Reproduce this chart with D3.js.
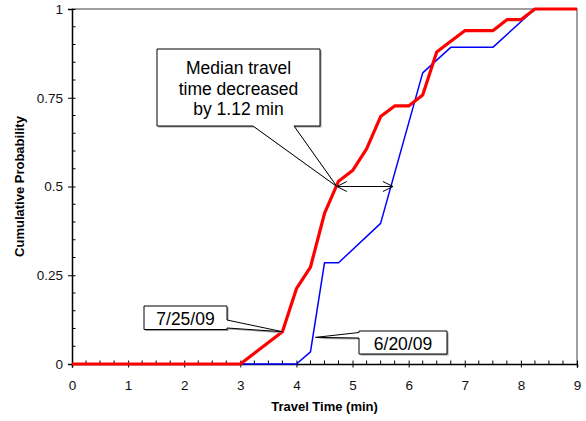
<!DOCTYPE html>
<html><head><meta charset="utf-8">
<script src="https://cdn.jsdelivr.net/npm/d3@7"></script>
<style>
body{margin:0;background:#fff;}
svg{display:block;font-family:"Liberation Sans",Arial,sans-serif;}
</style></head>
<body><svg id="c" width="586" height="421"></svg>
<script>
// ---- data ----
const redTimes  = [0, 3, 3.75, 4, 4.25, 4.5, 4.75, 5, 5.25, 5.5, 5.75, 6, 6.25, 6.5, 6.75, 7, 7.5, 7.75, 8, 8.25, 9];
const redProb   = [0, 0, 0.091, 0.212, 0.273, 0.424, 0.515, 0.545, 0.606, 0.697, 0.727, 0.727, 0.758, 0.879, 0.909, 0.939, 0.939, 0.970, 0.970, 1, 1];
const blueTimes = [0, 4, 4.25, 4.5, 4.75, 5.5, 6.25, 6.75, 7.5, 8.25, 9];
const blueProb  = [0, 0, 0.034, 0.285, 0.285, 0.396, 0.82, 0.892, 0.892, 1, 1];
const xTicks = [0,1,2,3,4,5,6,7,8,9];
const yTicks = [0, 0.25, 0.5, 0.75, 1];
const yTickLabels = ["0", "0.25", "0.5", "0.75", "1"];
const medianLevel = 0.5;
const medianRed = 4.72, medianBlue = 5.72;
const calloutText = ["Median travel", "time decreased", "by 1.12 min"];
const redLabel = "7/25/09", blueLabel = "6/20/09";
const redLabelPoint = [3.75, 0.091];
const blueLabelPoint = [4.34, 0.075];

// ---- layout ----
const svg = d3.select("#c");
const x = d3.scaleLinear().domain([0,9]).range([72,577]);
const y = d3.scaleLinear().domain([0,1]).range([364,9]);

// plot frame top/right (gray)
svg.append("path").attr("d",`M${x(0)},${y(1)}H${x(9)}V${y(0)}`)
  .attr("fill","none").attr("stroke","#808080").attr("stroke-width",1.5);

// minor ticks
const xMinor = d3.range(0, 9.001, 0.25).filter(v => Math.abs(v - Math.round(v)) > 1e-6);
svg.append("g").selectAll("line").data(xMinor).join("line")
  .attr("x1",d=>x(d)).attr("x2",d=>x(d)).attr("y1",y(0)).attr("y2",y(0)-3.5)
  .attr("stroke","#000").attr("stroke-width",1);
const yMinor = d3.range(0, 1.0001, 0.05).filter(v => Math.abs(v*4 - Math.round(v*4)) > 1e-6);
svg.append("g").selectAll("line").data(yMinor).join("line")
  .attr("x1",x(0)).attr("x2",x(0)+3.5).attr("y1",d=>y(d)).attr("y2",d=>y(d))
  .attr("stroke","#000").attr("stroke-width",1);

// axes
const xAxis = svg.append("g").attr("transform",`translate(0,${y(0)})`)
  .call(d3.axisBottom(x).tickValues(xTicks).tickFormat(d3.format("d")).tickSize(3.5).tickPadding(13));
xAxis.select(".domain").attr("stroke","#000").attr("stroke-width",1.5);
xAxis.selectAll(".tick line").attr("y1",-3.5).attr("stroke-width",1);
xAxis.selectAll("text").attr("font-size",13.5).attr("fill","#111")
  .attr("font-family","Liberation Sans, Arial, sans-serif");

const yAxis = svg.append("g").attr("transform",`translate(${x(0)},0)`)
  .call(d3.axisLeft(y).tickValues(yTicks).tickFormat((d,i)=>yTickLabels[i]).tickSize(4).tickPadding(5));
yAxis.select(".domain").attr("stroke","#000").attr("stroke-width",1.5);
yAxis.selectAll(".tick line").attr("x1",3.5).attr("stroke-width",1);
yAxis.selectAll("text").attr("font-size",13.5).attr("fill","#111")
  .attr("font-family","Liberation Sans, Arial, sans-serif");

// axis titles
svg.append("text").attr("x",(x(0)+x(9))/2).attr("y",411).attr("text-anchor","middle")
  .attr("font-size",13).attr("font-weight","bold").text("Travel Time (min)");
svg.append("text").attr("transform",`translate(24,${(y(0)+y(1))/2}) rotate(-90)`)
  .attr("text-anchor","middle").attr("font-size",13).attr("font-weight","bold")
  .text("Cumulative Probability");

// lines
const line = d3.line().x(d=>x(d[0])).y(d=>y(d[1]));
svg.append("path").datum(blueTimes.map((t,i)=>[t,blueProb[i]]))
  .attr("d",line).attr("fill","none").attr("stroke","#0000FF").attr("stroke-width",1.5)
  .attr("stroke-linejoin","round");
svg.append("path").datum(redTimes.map((t,i)=>[t,redProb[i]]))
  .attr("d",line).attr("fill","none").attr("stroke","#FF0000").attr("stroke-width",3.2)
  .attr("stroke-linejoin","round");

// median arrow
const ax1 = x(medianRed), ax2 = x(medianBlue), ay = y(medianLevel);
const arr = svg.append("g").attr("stroke","#000").attr("stroke-width",1).attr("fill","none");
arr.append("line").attr("x1",ax1).attr("x2",ax2).attr("y1",ay).attr("y2",ay);
arr.append("path").attr("d",`M${ax1+10},${ay-5}L${ax1},${ay}L${ax1+10},${ay+5}`);
arr.append("path").attr("d",`M${ax2-10},${ay-5}L${ax2},${ay}L${ax2-10},${ay+5}`);

// callouts
function callout(pts){
  const d = "M" + pts.map(p=>p.join(",")).join("L") + "Z";
  svg.append("path").attr("d",d).attr("transform","translate(1.5,1.5)")
    .attr("fill","#9a9a9a").attr("stroke","none");
  svg.append("path").attr("d",d).attr("fill","#fff").attr("stroke","#000").attr("stroke-width",1);
}
// median callout
{
  const tip=[x(medianRed), y(medianLevel)];
  const x0=157,y0=49,x1=320,y1=126;
  callout([[x0,y0],[x1,y0],[x1,y1],[294,y1],tip,[253,y1],[x0,y1]]);
  const t = svg.append("text").attr("text-anchor","middle").attr("font-size",17.5).attr("fill","#000");
  calloutText.forEach((s,i)=>t.append("tspan").attr("x",(x0+x1)/2).attr("y",74+i*20.5).text(s));
}
// red label
{
  const tip=[x(redLabelPoint[0]), y(redLabelPoint[1])];
  const x0=144,y0=306,x1=227,y1=329.5;
  callout([[x0,y0],[x1,y0],[x1,320],tip,[x1,328],[x1,y1],[x0,y1]]);
  svg.append("text").attr("x",(x0+x1)/2).attr("y",325).attr("text-anchor","middle")
    .attr("font-size",17.5).text(redLabel);
}
// blue label
{
  const tip=[x(blueLabelPoint[0]), y(blueLabelPoint[1])];
  const x0=359,y0=331,x1=447,y1=354;
  callout([[x0,y0],[x1,y0],[x1,y1],[x0,y1],[x0,338],tip,[x0,332.5]]);
  svg.append("text").attr("x",(x0+x1)/2).attr("y",350).attr("text-anchor","middle")
    .attr("font-size",17.5).text(blueLabel);
}
</script></body></html>
